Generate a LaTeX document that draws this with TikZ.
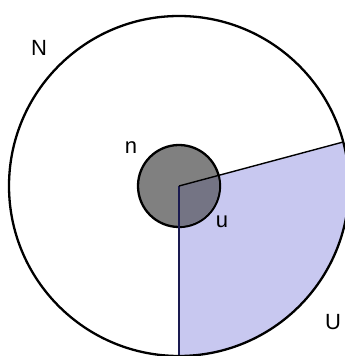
\documentclass[tikz,border=0pt]{standalone}
\usepackage{fontspec}
\setmainfont{Liberation Sans}
\usetikzlibrary{calc}
\definecolor{wedgeblue}{HTML}{C8C8F0}
\definecolor{innergrey}{HTML}{808080}
\definecolor{overlapgrey}{HTML}{747484}
\definecolor{raynavy}{HTML}{1A1A50}

\begin{document}
\begin{tikzpicture}[
  x=1pt,y=1pt,
  font=\fontsize{22}{24}\selectfont,
  region/.style={draw=black,line width=2.3pt},
  ray/.style={line width=1.4pt},
  lbl/.style={inner sep=0pt}
]
\useasboundingbox (0,0) rectangle (345,356);
\clip (0,0) rectangle (345,356);
\fill[white] (0,0) rectangle (345,356);
\coordinate (c) at (179,170);
\coordinate (bot) at ($(c)+(-90:170)$);
\coordinate (rim) at ($(c)+(15:170)$);

% sector U
\fill[wedgeblue] (c) -- (bot)
  arc[start angle=-90,end angle=15,radius=170] -- cycle;
% inner neighbourhood
\draw[region,fill=innergrey] (c) circle[radius=41];
\begin{scope}
  \clip (c) circle[radius=40];
  \fill[overlapgrey] (c) -- (bot)
    arc[start angle=-90,end angle=15,radius=170] -- cycle;
\end{scope}
\draw[ray,raynavy] (c) -- (bot);
\draw[ray] (c) -- (rim);
% outer neighbourhood
\draw[region] (c) circle[radius=170];

\node[lbl] (N) at (39,308) {N};
\node[lbl] (n) at (131,208) {n};
\node[lbl] (u) at (222,134) {u};
\node[lbl] (U) at (333,34) {U};
\end{tikzpicture}
\end{document}
